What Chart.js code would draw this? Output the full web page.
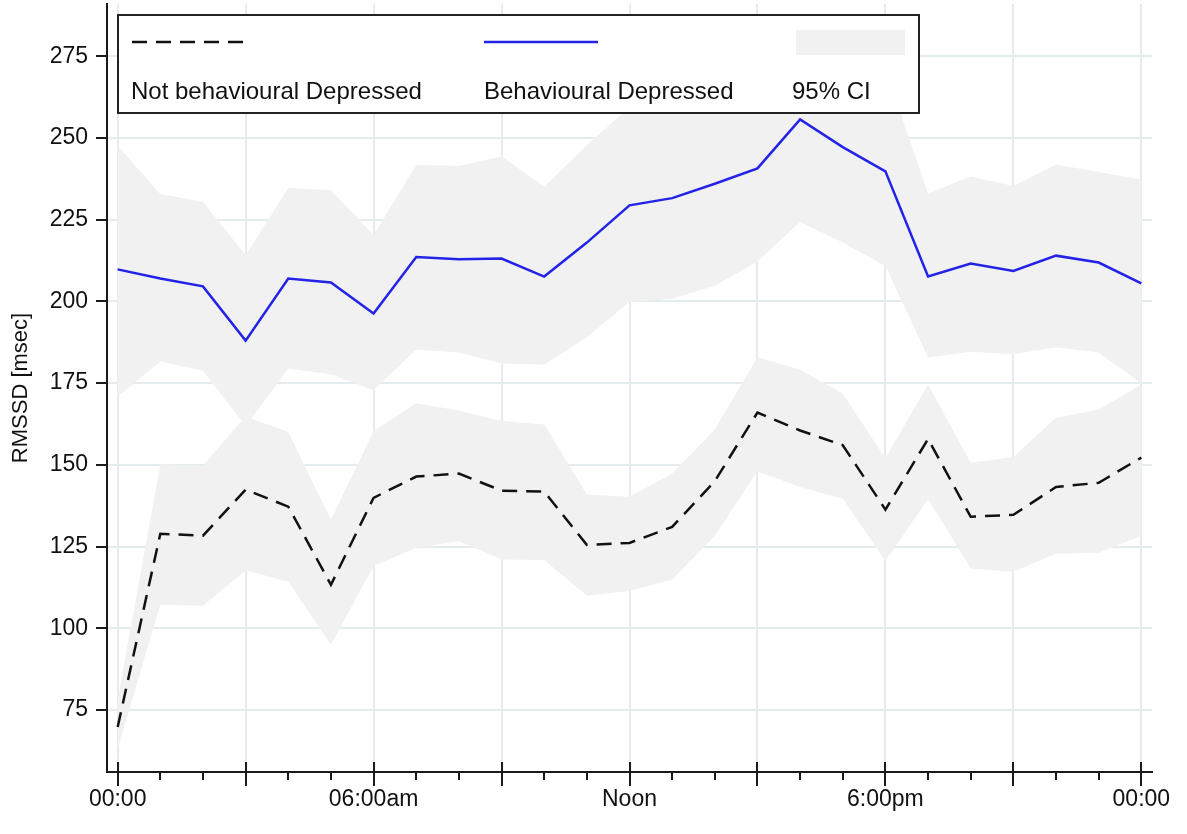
<!DOCTYPE html>
<html>
<head>
<meta charset="utf-8">
<script src="https://cdn.jsdelivr.net/npm/chart.js@4/dist/chart.umd.min.js"></script>
<style>
  html, body { margin: 0; padding: 0; background: #ffffff; }
  #wrap { width: 1187px; height: 834px; position: relative; }
</style>
</head>
<body>
<div id="wrap"><canvas id="c" width="1187" height="834"></canvas></div>
<script>
// ---- data (hour of day, RMSSD msec) ----
const hours = [0,1,2,3,4,5,6,7,8,9,10,11,12,13,14,15,16,17,18,19,20,21,22,23,24];
const xTickLabels = {0: '00:00', 6: '06:00am', 12: 'Noon', 18: '6:00pm', 24: '00:00'};
const yTickValues = [75, 100, 125, 150, 175, 200, 225, 250, 275];

const behavDep  = [209.8,207.0,204.6,188.0,207.0,205.8,196.3,213.6,212.9,213.1,207.6,218.0,229.4,231.6,236.0,240.7,255.7,247.2,239.8,207.6,211.6,209.3,214.0,211.9,205.5];
const behavLow  = [170.8,181.6,178.8,161.8,179.4,177.7,172.8,185.3,184.4,181.0,180.7,189.0,199.8,200.8,204.8,212.2,224.3,218.0,210.8,182.8,184.6,183.8,186.0,184.4,174.8];
const behavHigh = [247.6,232.9,230.5,214.1,234.7,234.0,220.3,241.7,241.4,244.4,235.1,247.8,259.5,262.0,264.5,267.5,279.0,275.0,271.0,233.0,238.2,235.3,241.9,239.6,237.3];

const notDep    = [69.8,128.9,128.3,142.4,137.2,113.3,139.9,146.4,147.3,142.1,141.8,125.5,126.1,131.0,145.0,166.0,160.5,156.0,136.3,157.9,134.1,134.7,143.2,144.5,152.2];
const notLow    = [63.0,107.2,106.9,117.7,114.2,94.9,119.0,124.6,126.6,121.0,120.9,109.9,111.4,114.9,128.2,148.0,143.2,139.6,120.6,139.5,118.3,117.3,122.8,123.1,128.2];
const notHigh   = [78.0,150.2,149.8,164.8,160.0,133.2,160.3,168.8,166.6,163.4,162.3,140.9,140.2,147.3,160.8,183.0,179.0,171.8,152.0,174.6,150.6,152.4,164.4,166.9,174.5];

const seriesNames = ['Not behavioural Depressed', 'Behavioural Depressed', '95% CI'];

// ---- styles ----
const FONT = '"Liberation Sans", Arial, Helvetica, sans-serif';
const BLUE = '#2323e8';
const BAND = '#f1f1f1';
const GRID = '#e4eded';
const AXIS = '#1a1a1a';

const pts = arr => arr.map((v, i) => ({x: hours[i], y: v}));

const stataTicks = {
  id: 'stataTicks',
  afterDraw(chart) {
    const ctx = chart.ctx, xs = chart.scales.x, bottom = chart.chartArea.bottom;
    ctx.save();
    ctx.strokeStyle = AXIS;
    ctx.lineWidth = 2;
    hours.forEach(h => {
      const x = Math.round(xs.getPixelForValue(h));
      ctx.beginPath();
      if (h % 3 === 0) { ctx.moveTo(x, bottom - 10); ctx.lineTo(x, bottom + 14); }
      else { ctx.moveTo(x, bottom); ctx.lineTo(x, bottom + 8); }
      ctx.stroke();
    });
    ctx.restore();
  }
};

const boxLegend = {
  id: 'boxLegend',
  afterDraw(chart) {
    const ctx = chart.ctx;
    ctx.save();
    ctx.fillStyle = '#ffffff';
    ctx.fillRect(118, 15, 801, 98);
    ctx.strokeStyle = '#222222';
    ctx.lineWidth = 2;
    ctx.strokeRect(118, 15, 801, 98);
    ctx.lineWidth = 2.5;
    ctx.beginPath();
    ctx.setLineDash([15, 9]);
    ctx.strokeStyle = '#111111';
    ctx.moveTo(132, 42); ctx.lineTo(246, 42);
    ctx.stroke();
    ctx.setLineDash([]);
    ctx.beginPath();
    ctx.strokeStyle = BLUE;
    ctx.moveTo(484, 42); ctx.lineTo(598, 42);
    ctx.stroke();
    ctx.fillStyle = BAND;
    ctx.fillRect(796, 30, 109, 25);
    ctx.fillStyle = '#111111';
    ctx.font = '24px ' + FONT;
    ctx.textBaseline = 'alphabetic';
    ctx.fillText(seriesNames[0], 131, 99);
    ctx.fillText(seriesNames[1], 484, 99);
    ctx.fillText(seriesNames[2], 792, 99);
    ctx.restore();
  }
};

new Chart(document.getElementById('c'), {
  type: 'line',
  data: {
    datasets: [
      { label: seriesNames[1], data: pts(behavDep), borderColor: BLUE, borderWidth: 2.5, pointRadius: 0, fill: false, order: 0, tension: 0 },
      { label: seriesNames[0], data: pts(notDep), borderColor: '#111111', borderWidth: 2.5, borderDash: [15, 9], pointRadius: 0, fill: false, order: 0, tension: 0 },
      { label: 'bl', data: pts(behavLow), borderColor: 'transparent', borderWidth: 0, pointRadius: 0, fill: false, order: 1 },
      { label: 'bh', data: pts(behavHigh), borderColor: 'transparent', borderWidth: 0, pointRadius: 0, backgroundColor: BAND, fill: 2, order: 1 },
      { label: 'nl', data: pts(notLow), borderColor: 'transparent', borderWidth: 0, pointRadius: 0, fill: false, order: 1 },
      { label: 'nh', data: pts(notHigh), borderColor: 'transparent', borderWidth: 0, pointRadius: 0, backgroundColor: BAND, fill: 4, order: 1 }
    ]
  },
  options: {
    responsive: false,
    animation: false,
    layout: { padding: { top: 4, right: 35, left: 0, bottom: 0 } },
    plugins: { legend: { display: false }, tooltip: { enabled: false } },
    elements: { line: { borderJoinStyle: 'miter' } },
    scales: {
      x: {
        type: 'linear',
        min: -0.25, max: 24.25,
        afterBuildTicks: s => { s.ticks = hours.filter(h => h % 3 === 0).map(v => ({value: v})); },
        afterFit: s => { s.height = 62; s.paddingLeft = 0; s.paddingRight = 0; },
        grid: { color: GRID, lineWidth: 2, drawTicks: false },
        border: { display: true, color: AXIS, width: 2 },
        ticks: {
          autoSkip: false, maxRotation: 0, padding: 14,
          color: '#111111', font: { family: FONT, size: 23 },
          callback: v => (xTickLabels[v] !== undefined ? xTickLabels[v] : '')
        }
      },
      y: {
        min: 56, max: 291,
        afterBuildTicks: s => { s.ticks = yTickValues.map(v => ({value: v})); },
        afterFit: s => { s.width = 107; s.paddingTop = 0; s.paddingBottom = 0; },
        grid: { color: GRID, lineWidth: 2, tickLength: 11, tickColor: AXIS, tickWidth: 2 },
        border: { display: true, color: AXIS, width: 2 },
        ticks: { padding: 8, color: '#111111', font: { family: FONT, size: 23 } },
        title: { display: true, text: 'RMSSD [msec]', color: '#111111', font: { family: FONT, size: 22 }, padding: { top: 8, bottom: 0 } }
      }
    }
  },
  plugins: [stataTicks, boxLegend]
});
</script>
</body>
</html>
